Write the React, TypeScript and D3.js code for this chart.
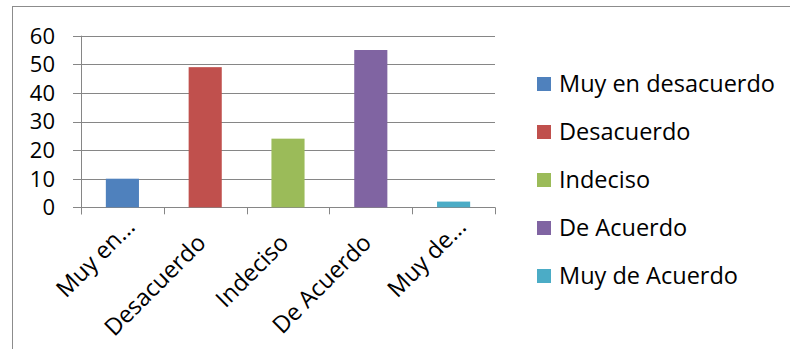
import * as React from 'react';
import { useEffect, useRef } from 'react';
import * as d3 from 'd3';

const categories = ['Muy en desacuerdo', 'Desacuerdo', 'Indeciso', 'De Acuerdo', 'Muy de Acuerdo'];
const axisLabels = ['Muy en...', 'Desacuerdo', 'Indeciso', 'De Acuerdo', 'Muy de...'];
const values = [10, 49, 24, 55, 2];
const yTicks = [0, 10, 20, 30, 40, 50, 60];
const colors = ['#4F81BD', '#C0504D', '#9BBB59', '#8064A2', '#4BACC6'];

const W = 790;
const H = 349;
const font = "'Open Sans', 'Noto Sans', sans-serif";
const fs = 23.5;

const App: React.FC = () => {
    const svgRef = useRef<SVGSVGElement | null>(null);

    useEffect(() => {
        if (!svgRef.current) return;
        const svg = d3.select(svgRef.current);
        svg.selectAll('*').remove();

        // chart frame (right/bottom edges run off the picture)
        svg.append('rect')
            .attr('x', 12.5).attr('y', 6.5)
            .attr('width', W + 20).attr('height', H + 20)
            .attr('fill', '#fff').attr('stroke', '#8c8c8c').attr('stroke-width', 1);

        const left = 81, right = 495, top = 35.7, bottom = 207.3;

        const x = d3.scaleBand<string>().domain(categories).range([left, right])
            .paddingInner(0.6).paddingOuter(0.3);
        const y = d3.scaleLinear().domain([0, 60]).range([bottom, top]);

        // gridlines
        svg.append('g').selectAll('line').data(yTicks).join('line')
            .attr('x1', left - 8).attr('x2', right)
            .attr('y1', d => Math.round(y(d)) + 0.5).attr('y2', d => Math.round(y(d)) + 0.5)
            .attr('stroke', '#868686').attr('stroke-width', 1);

        // y axis line
        svg.append('line')
            .attr('x1', left + 0.5).attr('x2', left + 0.5)
            .attr('y1', top).attr('y2', bottom + 7)
            .attr('stroke', '#868686');

        // x category boundary ticks
        const bounds = d3.range(categories.length + 1).map(i => left + i * x.step());
        svg.append('g').selectAll('line').data(bounds).join('line')
            .attr('x1', d => Math.round(d) + 0.5).attr('x2', d => Math.round(d) + 0.5)
            .attr('y1', bottom).attr('y2', bottom + 7)
            .attr('stroke', '#868686');

        // y tick labels
        svg.append('g').selectAll('text').data(yTicks).join('text')
            .attr('x', 55).attr('y', d => y(d))
            .attr('dy', '0.36em')
            .attr('text-anchor', 'end')
            .attr('font-family', font).attr('font-size', 22).attr('fill', '#000')
            .text(d => d);

        // bars
        svg.append('g').selectAll('rect').data(values).join('rect')
            .attr('x', (d, i) => x(categories[i])!)
            .attr('width', x.bandwidth())
            .attr('y', d => y(d))
            .attr('height', d => y(0) - y(d))
            .attr('fill', (d, i) => colors[i]);

        // rotated category labels (truncated ones sit a bit higher, like Excel)
        svg.append('g').selectAll('text').data(axisLabels).join('text')
            .attr('transform', (d, i) => {
                const cx = x(categories[i])! + x.bandwidth() / 2;
                const cut = d.endsWith('...');
                const dx = cut ? 14 : 2;
                const dy = cut ? 21 : 37;
                return `translate(${cx + dx},${bottom + dy}) rotate(-45)`;
            })
            .attr('text-anchor', 'end')
            .attr('font-family', font).attr('font-size', fs).attr('fill', '#000')
            .text(d => d);

        // legend
        const legend = svg.append('g').selectAll('g').data(categories).join('g')
            .attr('transform', (d, i) => `translate(537,${77 + i * 48})`);
        legend.append('rect')
            .attr('width', 14).attr('height', 14)
            .attr('fill', (d, i) => colors[i]);
        legend.append('text')
            .attr('x', 22).attr('y', 7).attr('dy', '0.36em')
            .attr('font-family', font).attr('font-size', fs).attr('fill', '#000')
            .text(d => d);
    }, []);

    return (
        <svg ref={svgRef} width={W} height={H}
            style={{ position: 'absolute', left: 0, top: 0, background: '#fff' }} />
    );
};

export default App;
